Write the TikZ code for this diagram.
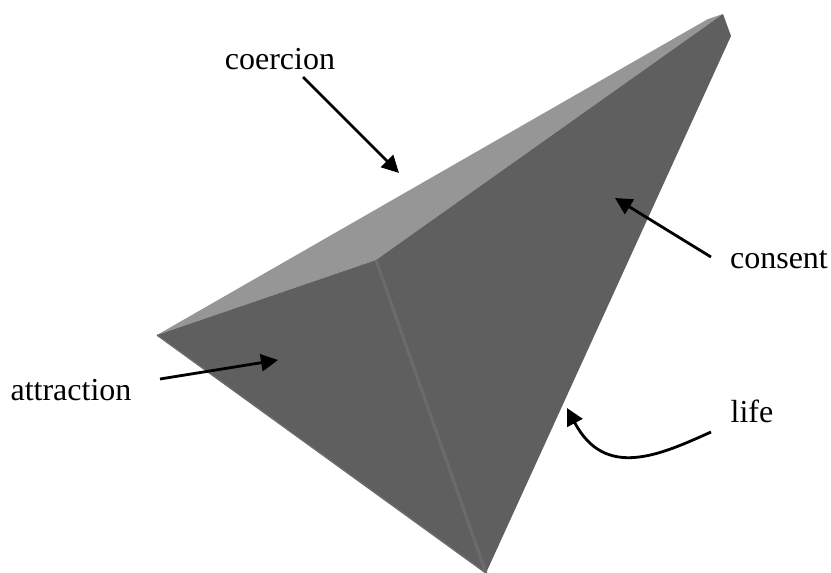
\documentclass[tikz,border=0pt]{standalone}
\usepackage{fontspec}
\setmainfont{Liberation Serif}
\usetikzlibrary{arrows.meta}
\definecolor{topface}{HTML}{969696}
\definecolor{mainface}{HTML}{5F5F5F}
\definecolor{ridge}{HTML}{6B6B6B}
\tikzset{
  lbl/.style={font=\fontsize{32}{36}\selectfont, inner sep=0pt, anchor=base},
  arr/.style={line width=2.8pt, black, -{Triangle[length=17pt,width=17pt]}},
  face/.style={draw=none}
}
\begin{document}
\begin{tikzpicture}[x=1pt,y=-1pt]
\useasboundingbox (0,0) rectangle (831,573);
\coordinate (apex) at (157,335);
\coordinate (mid) at (376,260);
\coordinate (top) at (723,14);
\coordinate (topl) at (708,19);
\coordinate (right) at (731,36);
\coordinate (bot) at (486,573);
\fill[topface,face] (apex) -- (topl) -- (top) -- (mid) -- cycle;
\fill[mainface,face] (apex) -- (mid) -- (top) -- (right) -- (bot) -- cycle;
\draw[ridge,line width=3pt] (mid) -- (bot);
\draw[ridge,line width=1.5pt] (apex) -- (bot);
\node[lbl] (coercion) at (280,69) {coercion};
\node[lbl] (consent) at (779,268) {consent};
\node[lbl] (attraction) at (71,400) {attraction};
\node[lbl] (life) at (752,422) {life};
\coordinate (coerciontip) at (399,173);
\coordinate (consenttip) at (615,198);
\coordinate (attractiontip) at (278,360);
\coordinate (lifetip) at (567,408);
\coordinate (coercionstart) at (303,77);
\coordinate (consentstart) at (711,257);
\coordinate (attractionstart) at (160,379);
\coordinate (lifestart) at (711,432);
\draw[arr] (coercionstart) -- (coerciontip);
\draw[arr] (consentstart) -- (consenttip);
\draw[arr] (attractionstart) -- (attractiontip);
\draw[arr] (lifestart) .. controls (660,455) and (605,480) .. (lifetip);
\end{tikzpicture}
\end{document}
